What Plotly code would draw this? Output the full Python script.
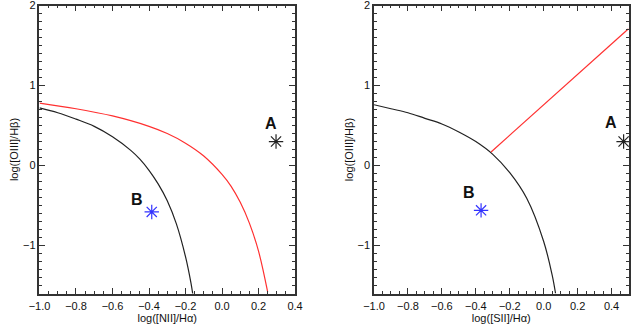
import plotly.graph_objects as go
from plotly.subplots import make_subplots

# left panel: [NII]/Ha diagram
nii_kauff_x = [-1.0, -0.9, -0.8, -0.7, -0.6, -0.5, -0.45, -0.4, -0.35, -0.3, -0.25, -0.2, -0.17, -0.16]
nii_kauff_y = [0.72, 0.66, 0.58, 0.49, 0.36, 0.19, 0.08, -0.06, -0.23, -0.44, -0.73, -1.14, -1.47, -1.61]
nii_kewley_x = [-1.0, -0.8, -0.6, -0.4, -0.3, -0.2, -0.1, 0.0, 0.05, 0.1, 0.15, 0.2, 0.25]
nii_kewley_y = [0.78, 0.71, 0.62, 0.49, 0.40, 0.28, 0.12, -0.11, -0.26, -0.46, -0.72, -1.07, -1.58]

# right panel: [SII]/Ha diagram
sii_kewley_x = [-1.0, -0.9, -0.8, -0.7, -0.6, -0.5, -0.4, -0.3, -0.2, -0.1, 0.0, 0.05, 0.07]
sii_kewley_y = [0.76, 0.71, 0.66, 0.59, 0.52, 0.42, 0.30, 0.14, -0.09, -0.41, -0.95, -1.37, -1.60]
sii_seyfert_x = [-0.31, 0.5]
sii_seyfert_y = [0.17, 1.71]

# objects
nii_points = {"A": (0.296, 0.30), "B": (-0.385, -0.58)}
sii_points = {"A": (0.471, 0.30), "B": (-0.369, -0.56)}
nii_labels = {"A": (0.268, 0.53), "B": (-0.467, -0.42)}
sii_labels = {"A": (0.398, 0.54), "B": (-0.438, -0.34)}
point_colors = {"A": "#222222", "B": "#3333ff"}

x_ticks_left = [-1.0, -0.8, -0.6, -0.4, -0.2, 0.0, 0.2, 0.4]
x_ticks_right = [-1.0, -0.8, -0.6, -0.4, -0.2, 0.0, 0.2, 0.4]
y_ticks = [-1, 0, 1, 2]

BLACK = "#222222"
RED = "#ff3030"
FONT = "Liberation Sans"

fig = make_subplots(rows=1, cols=2)

curve = dict(mode="lines", line_shape="spline")
fig.add_trace(go.Scatter(x=nii_kauff_x, y=nii_kauff_y, line=dict(color=BLACK, width=1.2), **curve),
              row=1, col=1)
fig.add_trace(go.Scatter(x=nii_kewley_x, y=nii_kewley_y, line=dict(color=RED, width=1.2), **curve),
              row=1, col=1)
fig.add_trace(go.Scatter(x=sii_kewley_x, y=sii_kewley_y, line=dict(color=BLACK, width=1.2), **curve),
              row=1, col=2)
fig.add_trace(go.Scatter(x=sii_seyfert_x, y=sii_seyfert_y, mode="lines",
                         line=dict(color=RED, width=1.2)), row=1, col=2)

for col, points, labels in [(1, nii_points, nii_labels), (2, sii_points, sii_labels)]:
    for name, (px, py) in points.items():
        fig.add_trace(go.Scatter(
            x=[px], y=[py], mode="markers", cliponaxis=False,
            marker=dict(symbol="asterisk-open", size=12, color=point_colors[name],
                        line=dict(color=point_colors[name], width=1.2)),
        ), row=1, col=col)
        lx, ly = labels[name]
        fig.add_annotation(x=lx, y=ly, text="<b>" + name + "</b>", showarrow=False,
                           font=dict(family=FONT, size=16, color="#111111"),
                           row=1, col=col)

axis_common = dict(
    showgrid=False, zeroline=False, showline=True, linecolor="#333333", linewidth=1.5,
    mirror="ticks", ticks="inside", ticklen=6, tickwidth=1, tickcolor="#333333",
    tickfont=dict(family=FONT, size=11, color="#111111"),
    title_font=dict(family=FONT, size=11, color="#111111"),
    automargin=False,
)

fig.update_xaxes(**axis_common)
fig.update_yaxes(**axis_common)

fig.update_xaxes(range=[-1.0, 0.4], tickvals=x_ticks_left, tickformat=".1f",
                 minor=dict(dtick=0.05, ticks="inside", ticklen=3, tickcolor="#333333"),
                 domain=[0.0622, 0.4646], title_text="log([NII]/H\u03b1)", title_standoff=0,
                 ticklabelstandoff=2, row=1, col=1)
fig.update_xaxes(range=[-1.0, 0.5], tickvals=x_ticks_right, tickformat=".1f",
                 minor=dict(dtick=0.05, ticks="inside", ticklen=3, tickcolor="#333333"),
                 domain=[0.589, 0.9898], title_text="log([SII]/H\u03b1)", title_standoff=0,
                 ticklabelstandoff=2, row=1, col=2)
for col in (1, 2):
    fig.update_yaxes(range=[-1.6, 2.0], tickvals=y_ticks,
                     minor=dict(dtick=0.1, ticks="inside", ticklen=3, tickcolor="#333333"),
                     domain=[0.1024, 0.983], title_text="log([OIII]/H\u03b2)", title_standoff=2,
                     ticklabeloverflow="allow", row=1, col=col)

fig.update_layout(
    width=635, height=327,
    margin=dict(l=0, r=0, t=0, b=0),
    paper_bgcolor="white", plot_bgcolor="white",
    showlegend=False,
)

fig.write_html("out.html", config={"displayModeBar": False},
               post_script="document.body.style.margin='0';")
